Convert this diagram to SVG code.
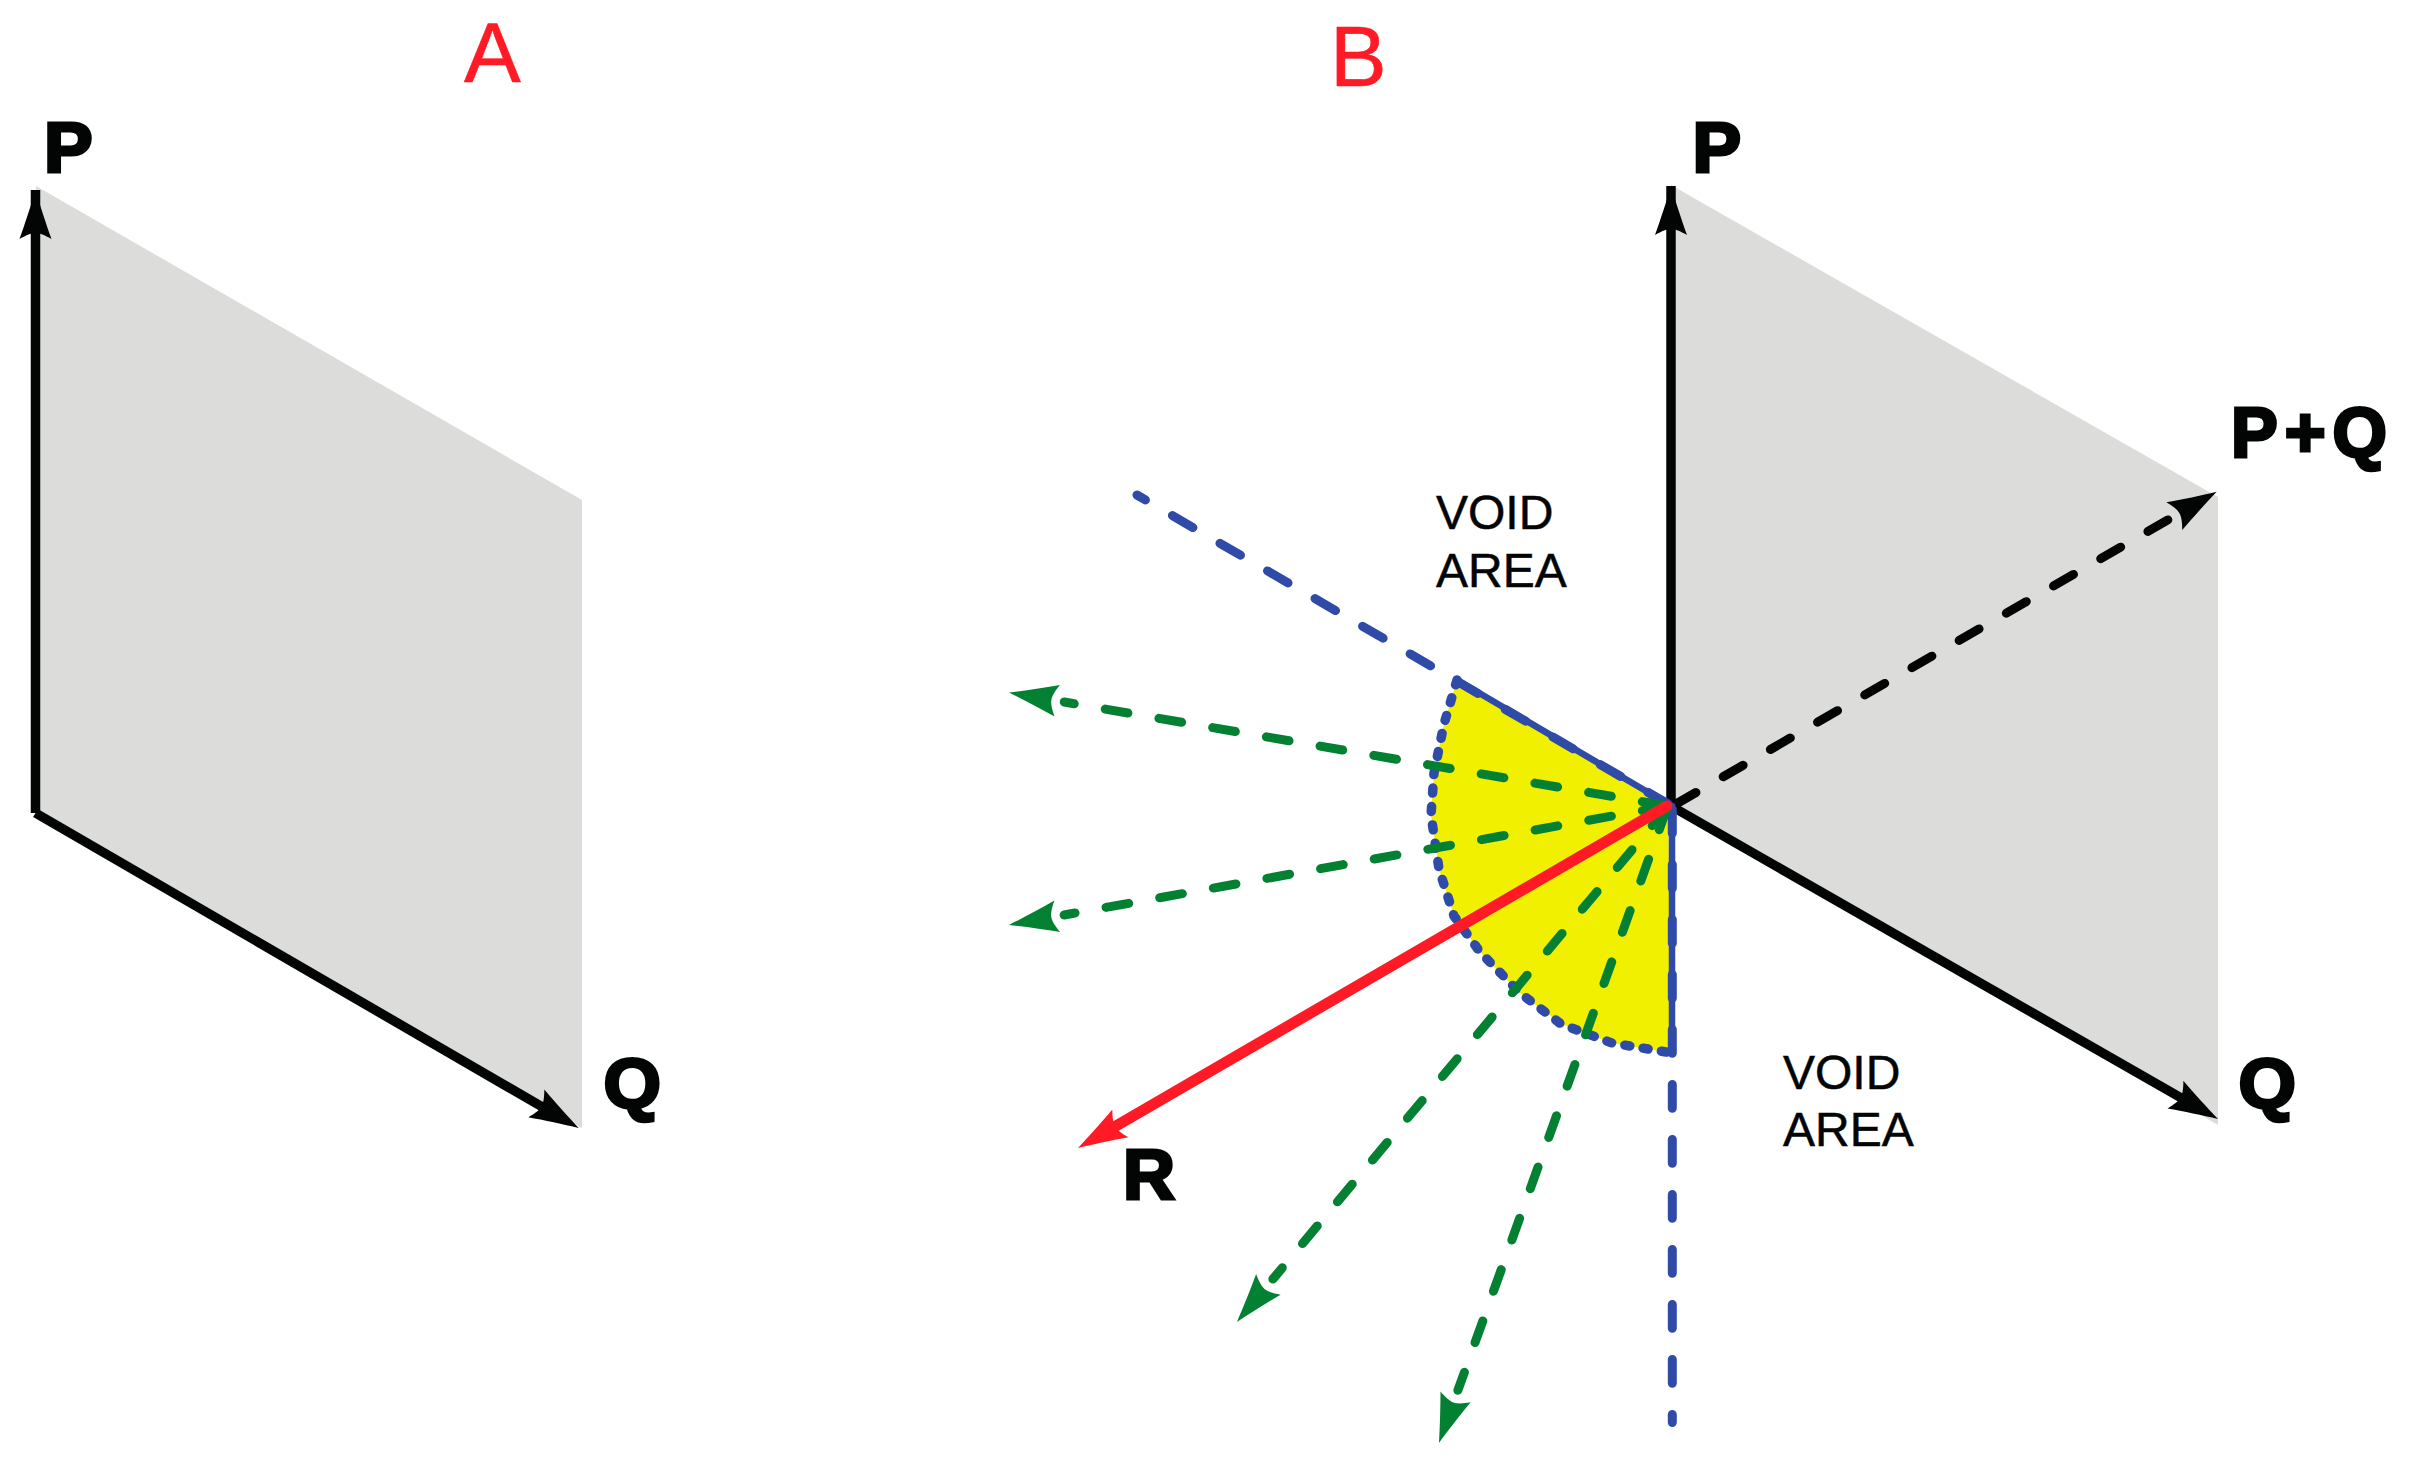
<svg xmlns="http://www.w3.org/2000/svg" width="2409" height="1471" viewBox="0 0 2409 1471">
<style>
.panel{fill:#dcdcda}
.ink{fill:none;stroke:#030404;stroke-width:9.5}
.dash{fill:none;stroke-width:9;stroke-linecap:round;stroke-dasharray:23 31.5}
.green{stroke:#048033}
.blue{stroke:#304aa8;stroke-dasharray:23.7 31.3}
.black{stroke:#030404}
.title{font:85px "Liberation Sans",Arial,sans-serif;fill:#ff1a25;stroke:#ff1a25;stroke-width:.6}
.vec{font:bold 70px "Liberation Sans",Arial,sans-serif;fill:#030404;stroke:#030404;stroke-width:3.2}
.note{font:48px "Liberation Sans",Arial,sans-serif;fill:#030404;stroke:#030404;stroke-width:.5}
</style>
<defs>
<path id="head" d="M49,0C34,-4.4 15,-10.6 0,-16C4,-9 6,-4 6,0C6,4 4,9 0,16C15,10.6 34,4.4 49,0Z"/>
<marker id="ah" markerUnits="userSpaceOnUse" viewBox="0 -17 50 34" refX="29" refY="0" markerWidth="50" markerHeight="34" orient="auto"><use href="#head" fill="#030404"/></marker>
<marker id="ahv" markerUnits="userSpaceOnUse" viewBox="0 -17 50 34" refX="49" refY="0" markerWidth="50" markerHeight="34" orient="auto"><use href="#head" fill="#030404"/></marker>
<marker id="ahr" markerUnits="userSpaceOnUse" viewBox="0 -17 50 34" refX="29" refY="0" markerWidth="50" markerHeight="34" orient="auto"><use href="#head" fill="#ff1a25"/></marker>
<marker id="ahk" markerUnits="userSpaceOnUse" viewBox="-8 -17 58 34" refX="-7" refY="0" markerWidth="58" markerHeight="34" orient="auto"><use href="#head" fill="#030404"/></marker>
<marker id="ahg" markerUnits="userSpaceOnUse" viewBox="-8 -17 58 34" refX="-7" refY="0" markerWidth="58" markerHeight="34" orient="auto"><use href="#head" fill="#048033"/></marker>
</defs>
<g id="panel-a">
<polygon class="panel" points="36,186 582,500 582,1128 36,813"/>
<text class="title" x="464" y="82">A</text>
<text class="vec" x="44" y="171.5" textLength="48.6" lengthAdjust="spacingAndGlyphs">P</text>
<text class="vec" x="603.5" y="1108" textLength="57.5" lengthAdjust="spacingAndGlyphs">Q</text>
</g>
<g id="panel-b">
<polygon class="panel" points="1671,185 2218,497 2218,1125 1671,806"/>
<text class="title" x="1330" y="86">B</text>
<text class="vec" x="1692.5" y="171.5" textLength="48.6" lengthAdjust="spacingAndGlyphs">P</text>
<text class="vec" x="2238.5" y="1108" textLength="57.5" lengthAdjust="spacingAndGlyphs">Q</text>
<text class="vec" x="2231" y="456.5" letter-spacing="7">P+Q</text>
<text class="vec" x="1123" y="1198.5" textLength="52" lengthAdjust="spacingAndGlyphs">R</text>
</g>
<g id="void-area-upper"><text class="note" x="1436" y="529">VOID</text><text class="note" x="1436" y="587">AREA</text></g>
<g id="void-area-lower"><text class="note" x="1783" y="1089">VOID</text><text class="note" x="1783" y="1146">AREA</text></g>
<g id="connectors">
<path class="ink" marker-end="url(#ahv)" d="M35.5,813V190"/>
<path class="ink" marker-end="url(#ah)" d="M35.5,813L561.4,1118"/>
<path class="ink" marker-end="url(#ahv)" d="M1671,806V186"/>
<path class="ink" marker-end="url(#ah)" d="M1671,806L2200.6,1109"/>
<path class="dash black" marker-end="url(#ahk)" d="M1676,804L2168.2,519.7"/>
</g>
<g id="void-sector">
<path d="M1668,804L1457,680L1444,724L1434,773L1431,815L1439,869L1454,916L1480,952L1520,993L1561,1024L1612,1043L1672,1053Z" fill="#f0f000"/>
<path d="M1457,680L1668,804L1672,806V1053" fill="none" stroke="#304aa8" stroke-width="6.5"/>
<path d="M1457,680L1444,724L1434,773L1431,815L1439,869L1454,916L1480,952L1520,993L1561,1024L1612,1043L1672,1053" fill="none" stroke="#304aa8" stroke-width="9.5" stroke-linecap="round" stroke-dasharray="5 13.5"/>
</g>
<g id="limits">
<path class="dash blue" stroke-dashoffset="14" d="M1137,495L1668,804"/>
<path class="dash blue" d="M1672.3,809.5V1422.5"/>
</g>
<g id="trials">
<path class="dash green" marker-end="url(#ahg)" d="M1665,805.5L1064.2,702"/>
<path class="dash green" marker-end="url(#ahg)" d="M1665,806.5L1064.1,915"/>
<path class="dash green" marker-end="url(#ahg)" d="M1667,808L1272.9,1279"/>
<path class="dash green" marker-end="url(#ahg)" d="M1667,808L1457.9,1390.3"/>
</g>
<g id="resultant">
<path fill="none" stroke="#ff1a25" stroke-width="11" stroke-linecap="round" marker-end="url(#ahr)" d="M1667,806L1095.3,1138"/>
</g>
</svg>
